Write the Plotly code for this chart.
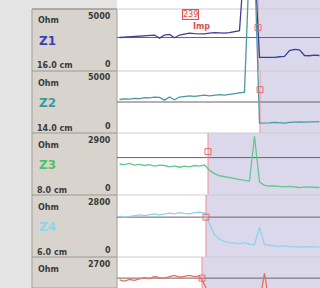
import plotly.graph_objects as go

# ---------------- data ----------------
channels = ["Z1", "Z2", "Z3", "Z4", "Z5"]
max_ohm = [5000, 5000, 2900, 2800, 2700]
depth_labels = ["16.0 cm", "14.0 cm", "8.0 cm", "6.0 cm", ""]
baseline_ohm = [2700, 2500, 1750, 1800, 1780]
bolus_entry = [27.7, 28.1, 17.7, 17.3, 16.5]      # sample index where shading starts
entry_marker_ohm = [3500, 3500, 2030, 1800, 1780]

z1 = [2700, 2720, 2750, 2780, 2800, 2850, 2880, 2900, 2650, 2900, 2950, 2680, 2900,
      3000, 3050, 3020, 2980, 3000, 3050, 3100, 3080, 3050, 3100, 3150, 3250,
      9000, 9000, 9000,
      1100, 1080, 1120, 1100, 1150, 1180, 1650, 1750, 1700, 1250, 1230, 1280, 1250]
z2 = [2700, 2750, 2730, 2800, 2780, 2850, 2830, 2900, 2870, 2650, 2900, 2680, 2900,
      2950, 3000, 2950, 3000, 3050, 3000, 3050, 3100, 3050, 3100, 3150, 3200, 3300,
      14000, 14000,
      800, 780, 820, 850, 830, 800, 850, 880, 900, 870, 900, 930, 920]
z3 = [1450, 1420, 1480, 1400, 1430, 1380, 1420, 1350, 1400, 1380, 1320, 1360, 1300,
      1350, 1320, 1380, 1350, 1400,
      1150, 1000, 900, 850, 800, 750, 700, 680, 650, 2750, 600, 450, 420, 430, 400,
      380, 400, 370, 350, 380, 360, 340, 350]
z4 = [1850, 1800, 1830, 1880, 1900, 1870, 1920, 1950, 1900, 1930, 1980, 1950, 2000,
      1970, 1950, 2000, 2020, 1980,
      1500, 1000, 800, 700, 650, 620, 600, 650, 580, 560, 1350, 560, 520, 500, 480,
      500, 470, 460, 480, 450, 470, 460, 450]
z5 = [1700, 1650, 1720, 1680, 1750, 1800, 1760, 1850, 1800, 1780, 1850, 1900, 1820,
      1870, 1900, 1850, 1880,
      1500, 1000, 700, 600, 550, 500, 520, 480, 500, 470, 450, 700, 2000, 600, 450,
      420, 430, 400, 410, 390, 400, 380, 390, 370]
series = [z1, z2, z3, z4, z5]

marker_label = "239"
marker_sub = "Imp"

# ---------------- style / layout ----------------
W, H = 320, 288
PANEL_X0, PLOT_X0 = 32, 117
TOP0, PITCH = 9, 62
line_colors = ["#3d3f9c", "#4a98a6", "#62c78c", "#8ed2ec", "#e8705c"]
label_colors = ["#3b40b8", "#3a9aa0", "#4cc46a", "#8ad6f0", "#e8604a"]
LAVENDER = "#dcd8ec"
PANEL = "#d8d4cd"
TXT = "#3a3a3a"
FONT = "DejaVu Sans"

def py(p):
    return 1 - p / H

def px(p):
    return p / W

n = len(z1)
xs = list(range(n))
fig = go.Figure()
shapes = []
annotations = []

for i, name in enumerate(channels):
    axid = "y" if i == 0 else f"y{i+1}"
    key = "yaxis" if i == 0 else f"yaxis{i+1}"
    top = TOP0 + i * PITCH
    bot = top + PITCH
    ft, fb = py(top), py(bot)
    s = max_ohm[i] / (ft - fb)
    r0 = -fb * s
    ax = dict(domain=[0, 1], range=[r0, r0 + s], visible=False, fixedrange=True)
    if i > 0:
        ax["overlaying"] = "y"
    fig.update_layout({key: ax})

    band_top = 1 if i == 0 else ft
    band_bot = 0 if i == len(channels) - 1 else fb
    # bolus shading
    shapes.append(dict(type="rect", xref="x", yref="paper", x0=bolus_entry[i], x1=n + 1,
                       y0=band_bot, y1=band_top, fillcolor=LAVENDER, line_width=0, layer="below"))
    # channel border in plot
    shapes.append(dict(type="line", xref="paper", yref="paper", x0=px(PLOT_X0), x1=1,
                       y0=ft, y1=ft, line=dict(color="#cdcbd2", width=1), layer="below"))
    # baseline
    shapes.append(dict(type="line", xref="paper", yref=axid, x0=px(PLOT_X0), x1=1,
                       y0=baseline_ohm[i], y1=baseline_ohm[i],
                       line=dict(color="#6d6262", width=1), layer="below"))
    # entry cursor
    shapes.append(dict(type="line", xref="x", yref="paper", x0=bolus_entry[i], x1=bolus_entry[i],
                       y0=band_bot, y1=band_top, line=dict(color="#f09090", width=1), layer="below"))
    # panel divider
    shapes.append(dict(type="line", xref="paper", yref="paper", x0=px(PANEL_X0), x1=px(PLOT_X0),
                       y0=ft, y1=ft, line=dict(color="#9c9892", width=1)))

    fig.add_trace(go.Scatter(x=xs, y=series[i], yaxis=axid, mode="lines",
                             line=dict(color=line_colors[i], width=1.3),
                             hoverinfo="skip", showlegend=False))
    fig.add_trace(go.Scatter(x=[bolus_entry[i]], y=[entry_marker_ohm[i]], yaxis=axid,
                             mode="markers",
                             marker=dict(symbol="square-open", size=6, color="#ee6a6a",
                                         line=dict(width=1)),
                             hoverinfo="skip", showlegend=False))

    # panel labels
    annotations.append(dict(text=f"<b>{max_ohm[i]}</b>", x=px(PLOT_X0 - 4), y=py(top + 7),
                            xanchor="right", yanchor="middle", font=dict(size=8, color=TXT)))
    annotations.append(dict(text="<b>Ohm</b>", x=px(PANEL_X0 + 4), y=py(top + 12),
                            xanchor="left", yanchor="middle", font=dict(size=8, color=TXT)))
    if i < len(channels) - 1:
        annotations.append(dict(text=f"<b>{name}</b>", x=px(PANEL_X0 + 5), y=py(top + 32),
                                xanchor="left", yanchor="middle",
                                font=dict(size=12, color=label_colors[i])))
        annotations.append(dict(text="<b>0</b>", x=px(PLOT_X0 - 4), y=py(bot - 7),
                                xanchor="right", yanchor="middle", font=dict(size=8, color=TXT)))
        annotations.append(dict(text=f"<b>{depth_labels[i]}</b>", x=px(PANEL_X0 + 3), y=py(bot - 5),
                                xanchor="left", yanchor="middle", font=dict(size=8, color=TXT)))

# left label panel
shapes.insert(0, dict(type="rect", xref="paper", yref="paper", x0=px(PANEL_X0), x1=px(PLOT_X0),
                      y0=0, y1=py(TOP0), fillcolor=PANEL, line=dict(color="#a39f99", width=1),
                      layer="below"))

annotations.append(dict(text=marker_label, x=px(190), y=py(14), xanchor="center", yanchor="middle",
                        font=dict(size=8, color="#e05050"), bordercolor="#e05050", borderwidth=1,
                        borderpad=0, bgcolor="#fff0f0"))
annotations.append(dict(text=f"<b>{marker_sub}</b>", x=px(201), y=py(26), xanchor="center",
                        yanchor="middle", font=dict(size=8, color="#e05050")))
for a in annotations:
    a.update(xref="paper", yref="paper", showarrow=False)

fig.update_layout(
    width=W, height=H,
    margin=dict(l=0, r=0, t=0, b=0),
    paper_bgcolor="#e4e4e4",
    plot_bgcolor="#ffffff",
    font=dict(family=FONT),
    xaxis=dict(domain=[px(PLOT_X0), 1], range=[-0.5, 40.1], visible=False, fixedrange=True),
    shapes=shapes,
    annotations=annotations,
    showlegend=False,
)

fig.write_html("out.html", config={"displayModeBar": False},
               post_script="document.body.style.margin='0';document.body.style.overflow='hidden';")
